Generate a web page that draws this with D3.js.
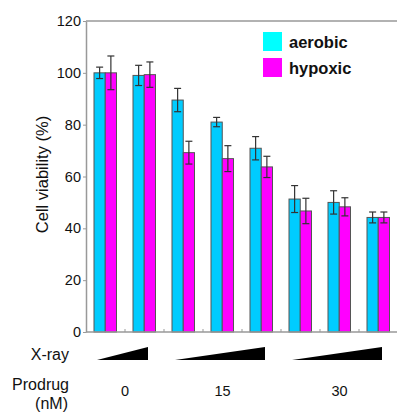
<!DOCTYPE html>
<html><head><meta charset="utf-8">
<script src="https://cdn.jsdelivr.net/npm/d3@7"></script>
<style>body{margin:0;background:#fff}svg{display:block;font-family:"Liberation Sans",Arial,sans-serif}</style>
</head><body>
<script>
const groups = ["g1","g2","g3","g4","g5","g6","g7","g8"];
const series = ["aerobic","hypoxic"];
const aerobic = [100, 99.0, 89.5, 81.0, 70.9, 51.3, 50.0, 44.2];
const aerobicErr = [2.2, 3.9, 4.5, 1.8, 4.5, 5.2, 4.5, 2.1];
const hypoxic = [100, 99.3, 69.2, 66.9, 63.7, 46.7, 48.3, 44.2];
const hypoxicErr = [6.5, 4.9, 4.4, 5.0, 4.1, 4.9, 3.5, 2.1];
const yTicks = [0, 20, 40, 60, 80, 100, 120];
const prodrugLabels = ["0", "15", "30"];
const xrayRanges = [[0,1],[2,4],[5,7]];

const W = 397, H = 412;
const svg = d3.select("body").append("svg").attr("width", W).attr("height", H);
const x0 = d3.scaleBand().domain(groups).range([86, 398]).paddingInner(0).paddingOuter(0);
const x1 = d3.scaleBand().domain(series).range([8, 30.5]);
const y = d3.scaleLinear().domain([0, 120]).range([332, 21]);

const barFill = {aerobic: "#00CCFF", hypoxic: "#FF00FF"};
const legFill = {aerobic: "#00FFFF", hypoxic: "#FF00FF"};

// frame
svg.append("line").attr("x1", 86).attr("x2", 398).attr("y1", y(120)).attr("y2", y(120)).attr("stroke", "#999").attr("stroke-width", 1.5);

const data = groups.map((g, i) => ({g, vals: [
  {s: "aerobic", v: aerobic[i], e: aerobicErr[i]},
  {s: "hypoxic", v: hypoxic[i], e: hypoxicErr[i]}]}));

const gg = svg.selectAll("g.grp").data(data).join("g").attr("transform", d => `translate(${x0(d.g)},0)`);
gg.selectAll("rect").data(d => d.vals).join("rect")
  .attr("x", d => x1(d.s)).attr("width", x1.bandwidth())
  .attr("y", d => y(d.v)).attr("height", d => y(0) - y(d.v))
  .attr("fill", d => barFill[d.s]).attr("stroke", "#555").attr("stroke-width", 1);
const eb = gg.selectAll("g.err").data(d => d.vals).join("g").attr("class", "err")
  .attr("transform", d => `translate(${x1(d.s) + x1.bandwidth()/2},0)`);
eb.append("line").attr("y1", d => y(d.v + d.e)).attr("y2", d => y(d.v - d.e)).attr("stroke", "#333").attr("stroke-width", 1.2);
eb.append("line").attr("x1", -3.5).attr("x2", 3.5).attr("y1", d => y(d.v + d.e)).attr("y2", d => y(d.v + d.e)).attr("stroke", "#333").attr("stroke-width", 1.2);
eb.append("line").attr("x1", -3.5).attr("x2", 3.5).attr("y1", d => y(d.v - d.e)).attr("y2", d => y(d.v - d.e)).attr("stroke", "#333").attr("stroke-width", 1.2);

// y axis
const ya = svg.append("g").attr("transform", "translate(86,0)")
  .call(d3.axisLeft(y).tickValues(yTicks).tickSize(3).tickPadding(2).tickSizeOuter(0));
ya.select(".domain").attr("stroke", "#999").attr("stroke-width", 1.5);
ya.selectAll(".tick line").attr("stroke", "#999");
ya.selectAll("text").attr("font-size", 14.5).attr("fill", "#111").attr("font-family", "Liberation Sans, Arial, sans-serif");

// x axis
const xa = svg.append("g").attr("transform", `translate(0,${y(0)})`);
xa.append("line").attr("x1", 86).attr("x2", 398).attr("stroke", "#999").attr("stroke-width", 1.5);
xa.selectAll("line.tk").data(groups.slice(1)).join("line").attr("class", "tk")
  .attr("x1", d => x0(d)).attr("x2", d => x0(d)).attr("y1", 0).attr("y2", -3).attr("stroke", "#999");

// y label
svg.append("text").attr("transform", `translate(48,${(y(0)+y(120))/2 - 2}) rotate(-90)`)
  .attr("text-anchor", "middle").attr("font-size", 16.5).attr("fill", "#111").text("Cell viability (%)");

// legend
series.forEach((s, i) => {
  svg.append("rect").attr("x", 263).attr("y", 32 + i*26).attr("width", 19).attr("height", 19).attr("fill", legFill[s]);
  svg.append("text").attr("x", 289).attr("y", 48 + i*26).attr("font-size", 16.5).attr("font-weight", "bold").attr("fill", "#111").text(s);
});

// x-ray triangles
xrayRanges.forEach(([a, b]) => {
  const xl = x0(groups[a]) + 11, xr = x0(groups[b]) + 23;
  svg.append("path").attr("d", `M${xl},360 L${xr},347 L${xr},360 Z`).attr("fill", "#000");
});
// prodrug labels
xrayRanges.forEach(([a, b], i) => {
  const cx = (x0(groups[a]) + x0(groups[b]) + x0.bandwidth()) / 2;
  svg.append("text").attr("x", cx).attr("y", 396).attr("text-anchor", "middle").attr("font-size", 14.5).attr("fill", "#111").text(prodrugLabels[i]);
});
svg.append("text").attr("x", 69).attr("y", 360).attr("text-anchor", "end").attr("font-size", 16).attr("fill", "#111").text("X-ray");
svg.append("text").attr("x", 69).attr("y", 390).attr("text-anchor", "end").attr("font-size", 16).attr("fill", "#111").text("Prodrug");
svg.append("text").attr("x", 68).attr("y", 409).attr("text-anchor", "end").attr("font-size", 16).attr("fill", "#111").text("(nM)");
</script>
</body></html>
